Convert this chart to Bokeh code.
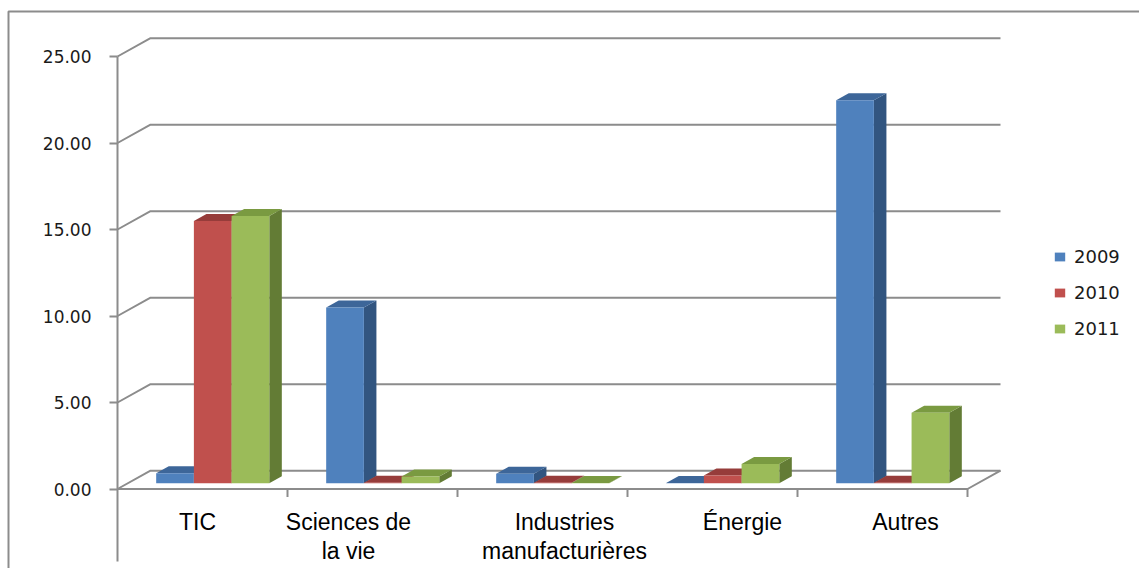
from bokeh.plotting import figure
from bokeh.models import (LinearAxis, FixedTicker, NumeralTickFormatter, Range1d,
                          Legend, LegendItem, ColumnDataSource)
from bokeh.core.properties import value
from bokeh.embed import file_html
from bokeh.resources import INLINE

# ---- data -----------------------------------------------------------------
categories = ["TIC", "Sciences de\nla vie", "Industries\nmanufacturières", "Énergie", "Autres"]
years = ["2009", "2010", "2011"]
v2009 = [0.58, 10.16, 0.56, 0.02, 22.14]
v2010 = [15.16, 0.04, 0.04, 0.45, 0.04]
v2011 = [15.45, 0.40, 0.02, 1.12, 4.08]
y_ticks = [0, 5, 10, 15, 20, 25]

# ---- geometry -------------------------------------------------------------
W, H = 1139, 568
PX_X = 170.0          # pixels per category slot
PX_Y = 17.3           # pixels per value unit
OX, OY = 117, 488.5   # canvas pixel of the origin (0, 0)

DX = 33.0 / PX_X      # depth of the floor / back wall, x part
DY = 18.3 / PX_Y      # depth of the floor / back wall, y part
FRONT = 0.31          # bar front face position inside the depth
DEPTH = 0.38          # bar thickness as a share of the depth
BAR_W = 37.7 / PX_X
N = len(categories)

GRID = "#8c8c8c"
faces = {
    "2009": ("#4F81BD", "#3D6699", "#325580"),
    "2010": ("#C0504D", "#963C3A", "#85302E"),
    "2011": ("#9BBB59", "#7A9A41", "#637C35"),
}

p = figure(width=W, height=H, output_backend="svg", toolbar_location=None,
           x_range=Range1d(-OX / PX_X, (W - OX) / PX_X),
           y_range=Range1d(-(H - OY) / PX_Y, OY / PX_Y),
           x_axis_location=None, y_axis_location=None,
           min_border_left=0, min_border_right=0, min_border_top=0, min_border_bottom=0)
p.outline_line_color = None
p.background_fill_color = "white"
p.border_fill_color = "white"
p.grid.grid_line_color = None
p.grid.visible = False

# outer chart border (top and left edges)
bx = (8 - OX) / PX_X
by = (OY - 11) / PX_Y
p.line(x=[bx, bx, (W - OX) / PX_X], y=[-(H - OY) / PX_Y, by, by],
       line_color=GRID, line_width=2)

# back wall gridlines with their diagonal run to the front axis
gx, gy = [], []
for t in y_ticks:
    gx.append([0, DX, N + DX])
    gy.append([t, t + DY, t + DY])
# floor front edge and right edge
gx.append([0, N, N + DX])
gy.append([0, 0, DY])
p.multi_line(xs=gx, ys=gy, line_color=GRID, line_width=2)

# category separators on the floor edge
p.segment(x0=list(range(1, N + 1)), y0=[0] * N, x1=list(range(1, N + 1)),
          y1=[-8 / PX_Y] * N, line_color=GRID, line_width=2)

# ---- 3-D bars ---------------------------------------------------------------
bdx, bdy = DEPTH * DX, DEPTH * DY
base = FRONT * DY
legend_items = []
for k, (yr, vals) in enumerate(zip(years, [v2009, v2010, v2011])):
    front_c, top_c, side_c = faces[yr]
    left, right, tops = [], [], []
    top_xs, top_ys, side_xs, side_ys = [], [], [], []
    for i, v in enumerate(vals):
        cx = i + 0.5 + FRONT * DX
        l = cx - 1.5 * BAR_W + k * BAR_W
        r = l + BAR_W
        t = base + v
        left.append(l); right.append(r); tops.append(t)
        top_xs.append([l, r, r + bdx, l + bdx])
        top_ys.append([t, t, t + bdy, t + bdy])
        side_xs.append([r, r, r + bdx, r + bdx])
        side_ys.append([base, t, t + bdy, base + bdy])
    p.patches(xs=side_xs, ys=side_ys, fill_color=side_c, line_color=None)
    p.patches(xs=top_xs, ys=top_ys, fill_color=top_c, line_color=None)
    src = ColumnDataSource(dict(left=left, right=right, top=tops,
                                bottom=[base] * N, value=vals))
    fr = p.quad(left="left", right="right", top="top", bottom="bottom", source=src,
                fill_color=front_c, line_color=None)
    legend_items.append(LegendItem(label=yr, renderers=[fr]))

# ---- value axis -------------------------------------------------------------
yaxis = LinearAxis(fixed_location=0,
                   ticker=FixedTicker(ticks=y_ticks, minor_ticks=[]),
                   formatter=NumeralTickFormatter(format="0.00"),
                   bounds=(-(561 - OY) / PX_Y, y_ticks[-1]))
yaxis.axis_line_color = GRID
yaxis.axis_line_width = 2
yaxis.major_tick_line_color = GRID
yaxis.major_tick_line_width = 2
yaxis.major_tick_out = 8
yaxis.major_tick_in = 0
yaxis.minor_tick_line_color = None
yaxis.major_label_standoff = 18
yaxis.major_label_text_font = "DejaVu Sans"
yaxis.major_label_text_font_size = "17px"
yaxis.major_label_text_color = "#1a1a1a"
p.add_layout(yaxis, "left")

# ---- category labels ----------------------------------------------------------
nudge = [-5, -24, 22, 30, 23]
lab = ColumnDataSource(dict(x=[i + 0.5 for i in range(N)],
                            y=[(OY - 508) / PX_Y] * N,
                            text=categories, dx=nudge))
p.text(x="x", y="y", text="text", x_offset="dx", source=lab,
       text_font=value("Liberation Sans"), text_font_size="23px",
       text_color="#000000", text_align="center", text_baseline="top",
       text_line_height=1.15)

# ---- legend -----------------------------------------------------------------
legend = Legend(items=legend_items, location=(1053, 568 - 339),
                glyph_width=13, glyph_height=11, label_standoff=8, spacing=15,
                padding=0, margin=0, border_line_color=None,
                background_fill_alpha=0,
                label_text_font="DejaVu Sans", label_text_font_size="18px",
                label_text_color="#1a1a1a")
p.add_layout(legend)

open("out.html", "w").write(file_html(p, INLINE))
